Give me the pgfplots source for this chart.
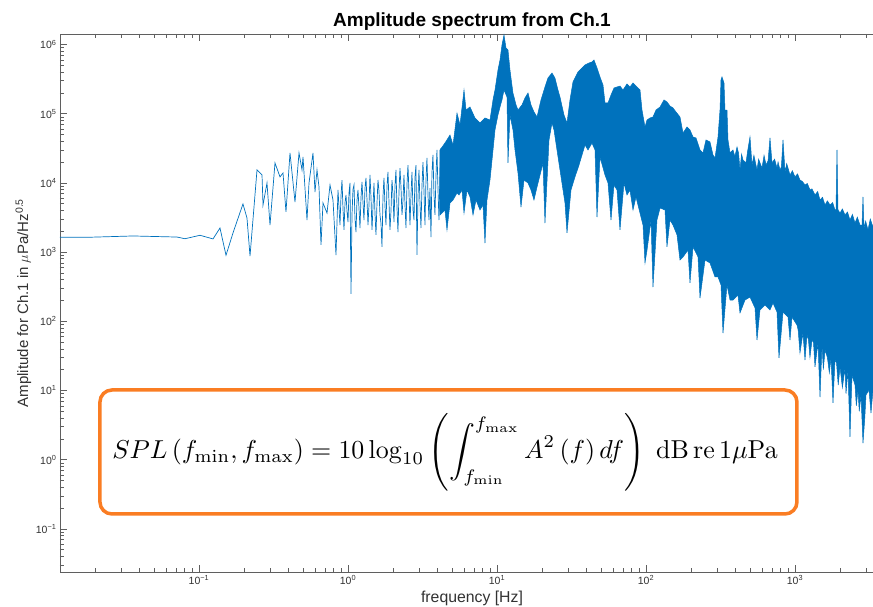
\documentclass[border=0pt]{standalone}
\usepackage[no-math]{fontspec}
\setmainfont{Liberation Sans}
\usepackage{pgfplots}
\pgfplotsset{compat=1.18}
\usepackage{graphicx}
\definecolor{mblue}{RGB}{0,114,189}
\definecolor{morange}{RGB}{250,125,35}
\definecolor{axgray}{RGB}{95,95,95}
\definecolor{txtgray}{RGB}{50,50,50}

\pgfplotstableread{
f A
0.01167 1640
0.01855 1640
0.03605 1710
0.0712 1650
0.0805 1560
0.1016 1750
0.1242 1550
0.1383 2230
0.1518 899
0.1691 1890
0.1973 4960
0.2099 3110
0.2200 878
0.2451 15400
0.2648 13000
0.2689 4790
0.2860 9970
0.2996 2460
0.3236 19400
0.3497 12200
0.3663 13900
0.3836 3800
0.4081 27100
0.4408 5300
0.4690 27100
0.4913 15400
0.4989 23700
0.5307 2910
0.5474 9970
0.5822 27100
0.6006 7390
0.6194 15400
0.6388 8730
0.6589 1270
0.6796 5120
0.7231 3670
0.7573 9330
0.7931 5660
0.8308 908
0.8568 7900
0.8837 2460
0.8975 6500
0.9115 11000
0.9257 4200
0.9401 2090
0.9548 5200
0.9696 6690
0.9847 3900
1.000 2720
1.0156 7200
1.0314 9970
1.0474 248
1.0637 3440
1.0803 8100
1.0971 9330
1.1142 3000
1.1315 1950
1.1492 5600
1.1670 7900
1.1852 4300
1.2036 2230
1.2224 6100
1.2414 10300
1.2607 5200
1.2803 2910
1.3003 8400
1.3205 11800
1.3411 5660
1.3620 2460
1.3832 4800
1.4047 13000
1.4266 6200
1.4488 2090
1.4714 4500
1.4943 9970
1.5176 3600
1.5412 1770
1.5652 5100
1.5895 11000
1.6143 7600
1.6394 3440
1.6650 2600
1.6909 1190
1.7172 6300
1.7439 11800
1.7711 4700
1.7987 2460
1.8267 8900
1.8551 14400
1.8840 5300
1.9133 2090
1.9431 3900
1.9734 11000
2.0041 6800
2.0353 2720
2.0670 9100
2.0991 15400
2.1318 4400
2.1650 1950
2.1987 7300
2.2330 16400
2.2677 8800
2.3030 3440
2.3389 5600
2.3753 13000
2.4123 4900
2.4499 2230
2.4880 9400
2.5267 18100
2.5661 7200
2.6060 2460
2.6466 6600
2.6878 14400
2.7296 4100
2.7722 2910
2.8153 12000
2.8592 18100
2.9037 908
2.9489 6200
2.9948 15400
3.0414 5100
3.0888 2230
3.1369 9000
3.1857 20000
3.2353 7700
3.2857 2460
3.3369 11000
3.3888 22900
3.4416 6800
3.4951 2910
3.5496 8400
3.6048 1650
3.6609 14000
3.7180 25300
3.7759 7000
3.8346 3440
3.8943 12500
3.9550 29900
4.0166 8100
4.0791 2910
4.1426 15000
4.2071 31900
4.2726 9500
4.3392 4060
4.4067 18000
4.4753 37700
}\lowband

\pgfplotstableread{
f A
4.144 29900
4.475 37700
4.837 49200
5.068 35300
5.390 102000
5.646 68700
6.006 220000
6.194 113000
6.589 125000
7.117 86700
7.690 73400
8.306 86700
8.974 81100
9.401 158000
9.696 220000
10.155 428000
10.474 597000
10.802 983000
11.143 1372000
11.492 890000
11.85 833000
12.22 428000
12.80 199000
13.42 134000
13.83 113000
14.72 134000
15.41 169000
16.15 199000
16.91 134000
17.71 106000
18.56 89600
19.74 158000
20.99 243000
21.99 328000
23.39 387000
24.50 328000
25.66 220000
26.47 174000
28.16 95800
29.50 73400
30.90 158000
32.36 287000
33.38 328000
34.96 400000
37.19 458000
38.96 506000
41.44 540000
43.41 559000
44.77 597000
46.90 458000
49.13 339000
51.45 260000
53.07 143000
55.59 143000
58.22 186000
60.98 235000
63.88 243000
66.91 251000
70.07 220000
74.56 269000
78.08 243000
81.80 278000
85.68 251000
91.15 220000
94.01 113000
98.47 64300
101.6 81100
106.4 86700
111.4 89600
116.7 113000
124.2 125000
132.1 158000
138.3 148000
144.9 129000
151.8 121000
159.0 106000
169.1 89600
177.2 52600
188.5 64300
197.4 58200
206.8 46100
216.6 44600
230.4 29900
241.3 27100
252.7 41700
268.9 39000
281.6 25300
290.5 22900
304.3 46100
313.8 113000
318.7 307000
323.6 339000
333.8 278000
339.0 113000
349.6 113000
355.1 41700
366.3 27100
383.7 29900
395 24000
408.1 33000
418 27000
427.4 15400
438 26000
447.7 21400
469.0 19400
480 28000
498.9 46100
514.5 18100
530 25000
555.9 15400
570 22000
600.5 16400
620 25000
639.0 18100
660 21000
679.6 44600
701.0 19400
730 22000
757.2 16400
770 20000
793.1 15400
810 17000
830.9 41700
857.0 14400
880 19000
925.8 13000
960 15000
1000 12200
1040 13500
1080 11000
1120 10500
1167 9330
1210 9800
1261 7900
1300 8200
1362 6690
1420 7500
1472 5660
1530 6200
1590 4790
1650 5500
1718 4790
1790 5200
1855 4060
1884 4060
1914 29900
1944 4060
2005 3670
2080 4200
2165 3440
2250 3800
2339 2910
2430 3500
2528 2630
2620 3200
2731 2460
2817 2460
2860 6260
2905 2230
2980 2800
3090 2090
3200 3000
3338 2310
3450 2600
3606 2100
3750 2500
3957 1900
3957 9.0
3850 5
3718 3.5
3606 9.5
3450 6
3338 10.2
3236 4.73
3138 10.2
2996 8.61
2940 4
2860 1.74
2773 8.61
2700 5
2647 10.2
2580 6
2528 12.0
2413 16.7
2339 2.13
2268 19.8
2200 9
2165 21.1
2080 11
2005 21.9
1950 12
1900 25
1855 27.6
1799 6.60
1745 29.5
1700 18
1650 30
1590 38.5
1550 20
1518 45.4
1472 8.05
1427 48.6
1362 22
1330 50
1301 53.7
1260 30
1230 55
1204 63.4
1167 27.6
1131 67.7
1080 35
1050 75
1031 88.4
954.7 115
925.8 53.7
897.6 115
830.9 136
780.9 29.5
757.2 136
711.9 184
679.6 146
629.1 172
582.2 146
555.9 53.7
538.9 156
498.9 224
461.8 203
427.4 132
414.4 240
383.7 203
366.3 203
349.6 335
328.7 67.7
318.7 335
304.3 437
290.5 437
268.9 696
248.9 769
230.4 217
223.4 850
206.8 1190
197.4 358
191.4 1070
177.2 850
169.1 769
161.5 1770
151.8 2460
144.9 2910
138.3 1190
134.1 4060
124.2 4340
118.5 2910
111.4 313
108.1 2910
101.6 1070
98.47 696
95.48 2460
91.15 3670
85.68 6260
81.80 4060
78.08 7900
74.56 6690
71.17 9970
66.91 2090
63.88 7900
60.98 9330
58.22 2910
55.59 9970
53.07 13000
49.13 23700
46.90 3210
45.47 29900
43.41 37700
40.80 29900
38.96 35300
37.19 25300
35.51 18100
33.38 12200
31.38 7900
29.50 1890
28.60 5120
26.47 15400
25.27 29900
24.13 58200
23.39 73400
22.34 41700
20.99 2630
20.36 19400
19.44 13000
18.56 8730
17.71 5660
16.91 7900
16.15 9970
15.18 11000
14.49 4480
13.83 13900
13.21 29900
12.80 58200
12.22 95800
11.85 19400
11.67 174000
11.143 220000
10.802 158000
10.474 125000
10.155 95800
9.696 58200
9.256 21400
8.974 11000
8.567 5660
8.306 1350
8.054 4790
7.690 4060
7.229 5660
6.902 3440
6.589 6260
6.291 7900
6.006 3670
5.823 7900
5.559 6690
5.390 7140
5.068 5660
4.837 5120
4.617 2090
4.475 4060
4.144 3440
}\highband

\begin{document}
\begin{tikzpicture}
\begin{axis}[
  scale only axis,
  width=824pt, height=538pt,
  xmode=log, ymode=log,
  xmin=0.01167, xmax=3957,
  ymin=0.02383, ymax=1.418e6,
  axis line style={axgray, line width=0.6pt},
  every tick/.style={axgray, line width=0.6pt},
  tick align=inside,
  major tick length=7pt,
  minor tick length=4pt,
  xtick={0.1,1,10,100,1000},
  xticklabels={10\textsuperscript{−1},10\textsuperscript{0},10\textsuperscript{1},10\textsuperscript{2},10\textsuperscript{3}},
  minor xtick={0.02,0.03,0.04,0.05,0.06,0.07,0.08,0.09,0.2,0.3,0.4,0.5,0.6,0.7,0.8,0.9,2,3,4,5,6,7,8,9,20,30,40,50,60,70,80,90,200,300,400,500,600,700,800,900,2000,3000},
  ytick={0.1,1,10,100,1000,10000,100000,1000000},
  yticklabels={10\textsuperscript{−1},10\textsuperscript{0},10\textsuperscript{1},10\textsuperscript{2},10\textsuperscript{3},10\textsuperscript{4},10\textsuperscript{5},10\textsuperscript{6}},
  minor ytick={0.03,0.04,0.05,0.06,0.07,0.08,0.09,0.2,0.3,0.4,0.5,0.6,0.7,0.8,0.9,2,3,4,5,6,7,8,9,20,30,40,50,60,70,80,90,200,300,400,500,600,700,800,900,2000,3000,4000,5000,6000,7000,8000,9000,20000,30000,40000,50000,60000,70000,80000,90000,200000,300000,400000,500000,600000,700000,800000,900000},
  tick label style={font=\fontsize{10.5}{12}\selectfont, text=txtgray},
  title={\bfseries\fontsize{19}{22}\selectfont Amplitude spectrum from Ch.1},
  title style={yshift=-6pt},
  xlabel={frequency [Hz]},
  ylabel={Amplitude for Ch.1 in $\mu$Pa/Hz\textsuperscript{0.5}},
  label style={font=\fontsize{15.8}{18}\selectfont, text=txtgray},
  x label style={at={(axis description cs:0.5,0)}, anchor=base, yshift=-31pt},
  y label style={at={(axis description cs:-0.0388,0.5)}, anchor=base, font=\fontsize{15}{18}\selectfont},
]
\addplot[mblue, line width=0.7pt] table[x=f, y=A] {\lowband};
\addplot[draw=mblue, fill=mblue, line width=0.5pt] table[x=f, y=A] {\highband} -- cycle;
\draw[morange, line width=3.5pt, rounded corners=12pt, fill=white]
  (rel axis cs:0.0485,0.1078) rectangle (rel axis cs:0.8944,0.3383);
\node at (rel axis cs:0.4672,0.2230)
  {\scalebox{2.59}{$\displaystyle SPL\left(f_{\min},f_{\max}\right)=10\log_{10}\left(\int_{f_{\min}}^{f_{\max}}A^{2}\left(f\right)df\right)\ \mathrm{dB}\,\mathrm{re}\,1\mu\mathrm{Pa}$}};
\end{axis}
\pgfresetboundingbox
\path ([shift={(-60pt,-35pt)}]current axis.south west) rectangle ([shift={(813pt,34pt)}]current axis.north west);
\end{tikzpicture}
\end{document}
